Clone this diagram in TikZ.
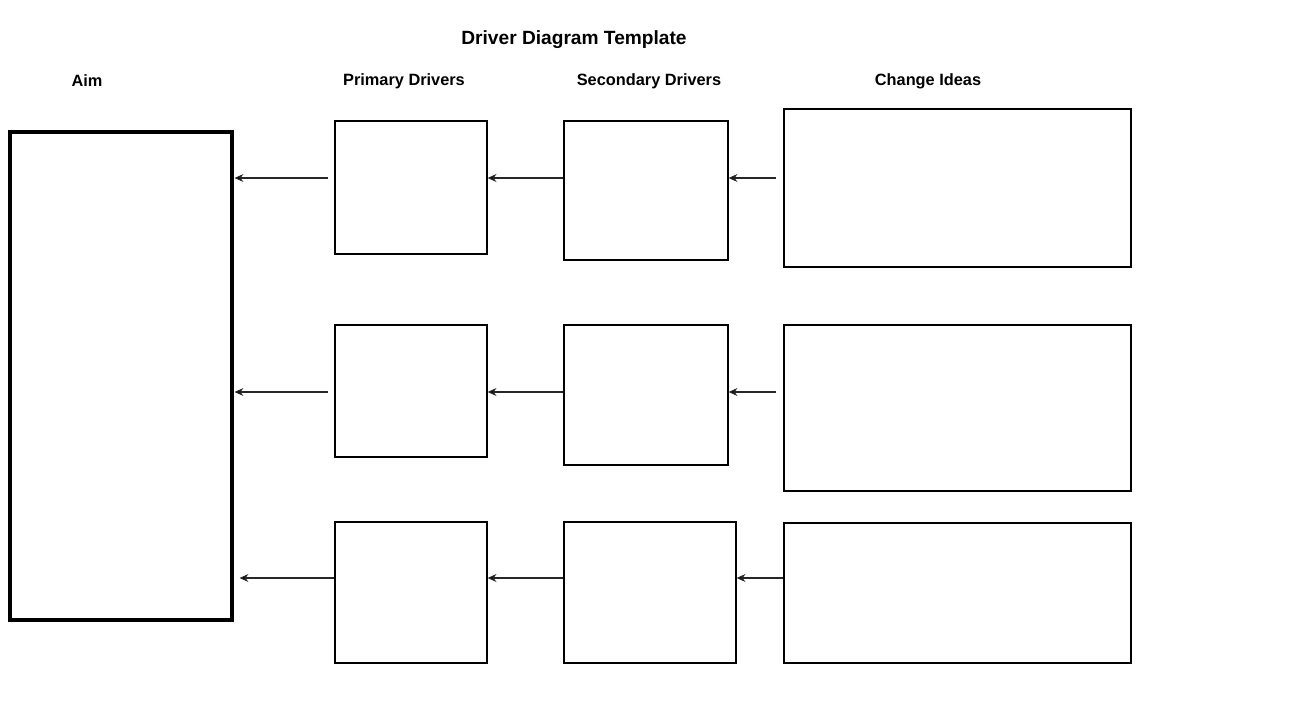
\documentclass[tikz,border=0pt]{standalone}
\usepackage{fontspec}
\setmainfont{Liberation Sans}
\usetikzlibrary{arrows.meta,fit}

\begin{document}
\begin{tikzpicture}[x=0.02cm,y=-0.02cm,
  box/.style={draw,line width=0.75pt,inner sep=0pt},
  aimbox/.style={draw,line width=1.8pt,inner sep=0pt},
  arr/.style={draw=black!85,line width=0.6pt,-{Stealth[length=5pt,width=4.5pt,fill=black]}},
  head/.style={font=\bfseries\fontsize{9.3}{11}\selectfont},
  title/.style={font=\bfseries\fontsize{10.9}{13}\selectfont}]
  \useasboundingbox (0,0) rectangle (1289,720);
  % Titles
  \node[title] (ttl) at (574,40) {Driver Diagram Template};
  \node[head] (haim) at (87,81)  {Aim};
  \node[head] (hpri) at (404,81) {Primary Drivers};
  \node[head] (hsec) at (649,81) {Secondary Drivers};
  \node[head] (hchg) at (928,81) {Change Ideas};
  % Aim
  \node[aimbox, fit={(10,132) (232,620)}] (aim) {};
  % Primary drivers
  \node[box, fit={(335,121) (487,254)}] (p1) {};
  \node[box, fit={(335,325) (487,457)}] (p2) {};
  \node[box, fit={(335,522) (487,663)}] (p3) {};
  % Secondary drivers
  \node[box, fit={(564,121) (728,260)}] (s1) {};
  \node[box, fit={(564,325) (728,465)}] (s2) {};
  \node[box, fit={(564,522) (736,663)}] (s3) {};
  % Change ideas
  \node[box, fit={(784,109) (1131,267)}] (c1) {};
  \node[box, fit={(784,325) (1131,491)}] (c2) {};
  \node[box, fit={(784,523) (1131,663)}] (c3) {};
  % Arrows
  \coordinate (r1) at (0,178);
  \coordinate (r2) at (0,392);
  \coordinate (r3) at (0,578);
  \draw[arr] ([xshift=-6*0.02cm]p1.west |- r1) -- ([xshift=0.02cm]aim.east |- r1);
  \draw[arr] (s1.west |- r1) -- (p1.east |- r1);
  \draw[arr] ([xshift=-7*0.02cm]c1.west |- r1) -- (s1.east |- r1);
  \draw[arr] ([xshift=-6*0.02cm]p2.west |- r2) -- ([xshift=0.02cm]aim.east |- r2);
  \draw[arr] (s2.west |- r2) -- (p2.east |- r2);
  \draw[arr] ([xshift=-7*0.02cm]c2.west |- r2) -- (s2.east |- r2);
  \draw[arr] (p3.west |- r3) -- ([xshift=6*0.02cm]aim.east |- r3);
  \draw[arr] (s3.west |- r3) -- (p3.east |- r3);
  \draw[arr] (c3.west |- r3) -- (s3.east |- r3);
\end{tikzpicture}
\end{document}
